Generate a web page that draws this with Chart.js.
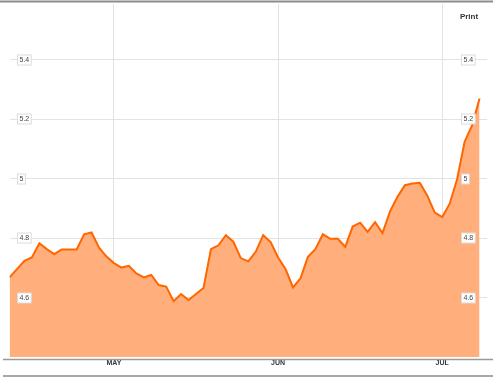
<!DOCTYPE html>
<html>
<head>
<meta charset="utf-8">
<script src="https://cdn.jsdelivr.net/npm/chart.js@4"></script>
<style>
  html, body { margin: 0; padding: 0; background: #fff; overflow: hidden; }
  #wrap { width: 500px; height: 381px; position: relative; }
</style>
</head>
<body>
<div id="wrap"><canvas id="g-rate"></canvas></div>
<script>
// daily values (64 trading days)
var rates = [4.668, 4.696, 4.724, 4.735, 4.783, 4.763, 4.746, 4.762, 4.762, 4.762,
             4.813, 4.819, 4.768, 4.738, 4.716, 4.701, 4.707, 4.681, 4.668, 4.676,
             4.642, 4.637, 4.588, 4.612, 4.592, 4.612, 4.632, 4.763, 4.776, 4.810,
             4.788, 4.733, 4.722, 4.754, 4.810, 4.787, 4.735, 4.696, 4.634, 4.665,
             4.737, 4.763, 4.813, 4.798, 4.798, 4.771, 4.839, 4.852, 4.821, 4.854,
             4.817, 4.890, 4.939, 4.978, 4.984, 4.986, 4.943, 4.886, 4.871, 4.916,
             4.999, 5.124, 5.179, 5.270];
var monthLabels = ['MAY', 'JUN', 'JUL'];
var monthStart = [14, 36, 58];   // index of first day of each month
var yTicks = [4.6, 4.8, 5.0, 5.2, 5.4];

var puntos = rates.map(function (v, i) { return { x: i, y: v }; });

// frame lines, boxed y labels and the Print link
var extras = {
  id: 'extras',
  afterDraw: function (chart) {
    var c = chart.ctx;
    var y = chart.scales.y;
    c.save();
    c.lineWidth = 2;
    c.strokeStyle = '#8c8c8c';
    c.beginPath(); c.moveTo(0, 1.5); c.lineTo(493, 1.5); c.stroke();
    c.lineWidth = 1.5;
    c.strokeStyle = '#9a9a9a';
    c.beginPath(); c.moveTo(3, 359.5); c.lineTo(493, 359.5); c.stroke();
    c.lineWidth = 2;
    c.strokeStyle = '#a8a8a8';
    c.beginPath(); c.moveTo(3, 376); c.lineTo(493, 376); c.stroke();

    c.font = '7px Arial, "Liberation Sans", sans-serif';
    c.textBaseline = 'middle';
    c.textAlign = 'left';
    yTicks.forEach(function (t) {
      var py = Math.round(y.getPixelForValue(t));
      var txt = String(Math.round(t * 10) / 10);
      var w = c.measureText(txt).width + 4;
      [17.5, 461.5].forEach(function (bx) {
        c.fillStyle = '#fff';
        c.fillRect(bx, py - 5, w, 10);
        c.strokeStyle = '#dcdcdc';
        c.lineWidth = 1;
        c.strokeRect(bx, py - 5, w, 10);
        c.fillStyle = '#444';
        c.fillText(txt, bx + 2, py + 0.5);
      });
    });

    c.font = 'bold 8px Arial, "Liberation Sans", sans-serif';
    c.fillStyle = '#333';
    c.textAlign = 'center';
    c.fillText('Print', 469, 17);
    c.restore();
  }
};

var idhtml = document.getElementById('g-rate').getContext('2d');
var g_area = new Chart(idhtml, {
  type: 'line',
  data: {
    datasets: [{
      label: 'Rate',
      data: puntos,
      borderColor: '#ff6600',
      borderWidth: 2,
      backgroundColor: 'rgb(255,174,124)',
      fill: 'start',
      tension: 0,
      pointRadius: 0
    }]
  },
  options: {
    responsive: true,
    maintainAspectRatio: false,
    animation: false,
    layout: { padding: { top: 4, left: 9.5, right: 13, bottom: 11.6 } },
    plugins: { legend: { display: false }, tooltip: { enabled: false } },
    scales: {
      x: {
        type: 'linear',
        min: 0,
        max: 64,
        afterBuildTicks: function (axis) {
          axis.ticks = monthStart.map(function (v) { return { value: v }; });
        },
        ticks: {
          padding: 2,
          autoSkip: false,
          maxRotation: 0,
          color: '#333',
          font: { family: 'Arial, "Liberation Sans", sans-serif', size: 7, weight: 'bold' },
          callback: function (v) {
            var k = monthStart.indexOf(v);
            return k >= 0 ? monthLabels[k] : '';
          }
        },
        grid: { color: '#e3e3e3', drawTicks: false },
        border: { display: false }
      },
      y: {
        min: 4.4,
        max: 5.588,
        afterBuildTicks: function (axis) {
          axis.ticks = yTicks.map(function (v) { return { value: v }; });
        },
        ticks: { display: false },
        grid: { color: '#e3e3e3', drawTicks: false },
        border: { display: false }
      }
    }
  },
  plugins: [extras]
});
</script>
</body>
</html>
